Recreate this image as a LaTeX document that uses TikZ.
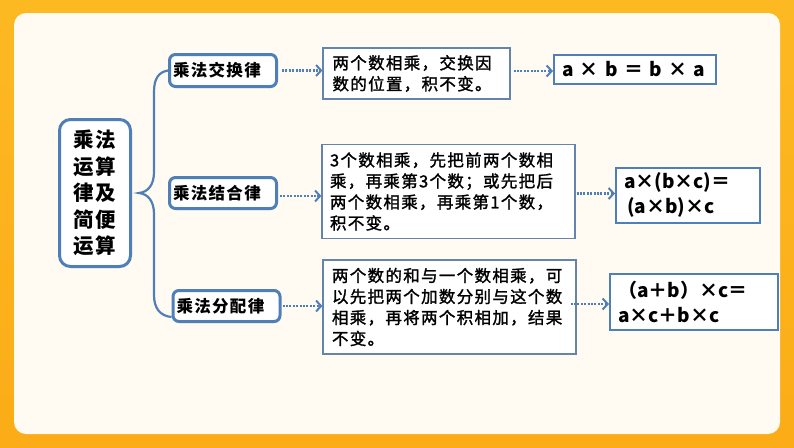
\documentclass[tikz,border=0pt]{standalone}
\usepackage{fontspec}
\setmainfont[LetterSpace=8]{Noto Sans CJK SC}
\newfontfamily\descfont[LetterSpace=8, FakeBold=1.5]{Noto Sans CJK SC}
\newfontfamily\sumfont{Noto Sans CJK SC}
\usepackage{tikz}
\usetikzlibrary{arrows.meta, shadows, calc}

\definecolor{frametop}{HTML}{FDB922}
\definecolor{framelow}{HTML}{FBAC17}
\definecolor{paper}{HTML}{FFFBF2}
\definecolor{lineblue}{HTML}{4F7FB8}
\definecolor{descblue}{HTML}{6484AC}

\tikzset{
	softshadow/.style={drop shadow={shadow xshift=0.8pt, shadow yshift=-1.5pt, opacity=0.25, fill=lineblue}},
	rootbox/.style={draw=lineblue, fill=white, line width=3pt, rounded corners=11pt, align=center, inner sep=0pt, softshadow,
		font=\fontsize{20.5}{26.6}\selectfont\bfseries},
	rulebox/.style={draw=lineblue, fill=white, line width=3pt, rounded corners=6pt, align=left, text width=100pt, inner xsep=3.5pt, inner ysep=0pt, softshadow,
		font=\fontsize{16.5}{20}\selectfont\bfseries},
	descbox/.style={draw=descblue, fill=white, line width=1.2pt, align=left, inner ysep=0pt,
		drop shadow={shadow xshift=0.6pt, shadow yshift=-0.8pt, opacity=0.2},
		font=\fontsize{16.5}{21}\descfont},
	sumbox/.style={draw=lineblue, fill=white, line width=2pt, align=left, inner ysep=0pt,
		font=\fontsize{19}{25}\sumfont\bfseries},
	dotarrow/.style={draw=lineblue, line width=2.2pt, dash pattern=on 2pt off 1.4pt, -{Straight Barb[length=5pt, width=11pt, line width=2pt]}},
	branch/.style={draw=lineblue, line width=2.2pt}
}

\begin{document}
\begin{tikzpicture}[x=1pt, y=-1pt]
	\useasboundingbox (0,0) rectangle (794,447);
	\shade[top color=frametop, bottom color=framelow] (0,0) rectangle (794,447);
	\fill[paper, rounded corners=12pt] (14,13) rectangle (780,434);

	% centre column
	\node[rootbox, minimum width=71pt, minimum height=147pt] (root) at (95,193)
		{乘法\\运算\\律及\\简便\\运算};

	% the three laws
	\node[rulebox, minimum height=32pt] (ruleone)   at (223,70.5) {乘法交换律};
	\node[rulebox, minimum height=31pt] (ruletwo)   at (223,193)  {乘法结合律};
	\node[rulebox, minimum height=31pt] (rulethree) at (226.5,306) {乘法分配律};

	\node[descbox, text width=168pt, inner xsep=9.5pt, minimum height=51pt] (descone)   at (416.5,73.5)
		{两个数相乘，交换因\\数的位置，积不变。};
	\node[descbox, text width=237pt, inner xsep=8pt, minimum height=94pt] (desctwo)   at (448.5,191.5)
		{3个数相乘，先把前两个数相\\乘，再乘第3个数；或先把后\\两个数相乘，再乘第1个数，\\积不变。};
	\node[descbox, text width=235pt, inner xsep=9pt, minimum height=94pt] (descthree) at (449.5,307)
		{两个数的和与一个数相乘，可\\以先把两个加数分别与这个数\\相乘，再将两个积相加，结果\\不变。};

	\node[sumbox, text width=146pt, inner xsep=8pt, minimum height=29pt] (sumone)   at (635,69)
		{a × b ＝ b × a};
	\node[sumbox, text width=128pt, inner xsep=8pt, minimum height=55pt] (sumtwo)   at (688,195)
		{a×(b×c)＝\\\,(a×b)×c};
	\node[sumbox, text width=152pt, inner xsep=8pt, minimum height=56pt] (sumthree) at (694,301.5)
		{（a＋b）×c＝\\a×c＋b×c};

	\draw[dotarrow] ($(ruleone.east)+(4,0)$) -- (descone.west |- ruleone.east);
	\draw[dotarrow] ($(ruletwo.east)+(2,3)$) -- ($(desctwo.west |- ruletwo.east)+(0,3)$);
	\draw[dotarrow] ($(rulethree.east)+(1,0)$) -- (descthree.west |- rulethree.east);
	\draw[dotarrow] ($(descone.east |- sumone.west)+(3,2)$) -- ($(sumone.west)+(0,2)$);
	\draw[dotarrow] ($(desctwo.east |- sumtwo.west)+(1,-1.5)$) -- ($(sumtwo.west)+(0,-1.5)$);
	\draw[dotarrow] ($(descthree.east |- sumthree.west)+(-6,2.5)$) -- ($(sumthree.west)+(0,2.5)$);

	% brace from the root to the laws
	\coordinate (bracetip) at (139,193);
	\draw[branch] (ruleone.west) .. controls (159,72) and (154,78) .. (154,92)
		-- (154,172) .. controls (154,185) and (148,192) .. (bracetip)
		.. controls (148,194) and (154,201) .. (154,214)
		-- (154,295) .. controls (154,308) and (160,316) .. ($(rulethree.west)+(0,11)$);
\end{tikzpicture}
\end{document}
